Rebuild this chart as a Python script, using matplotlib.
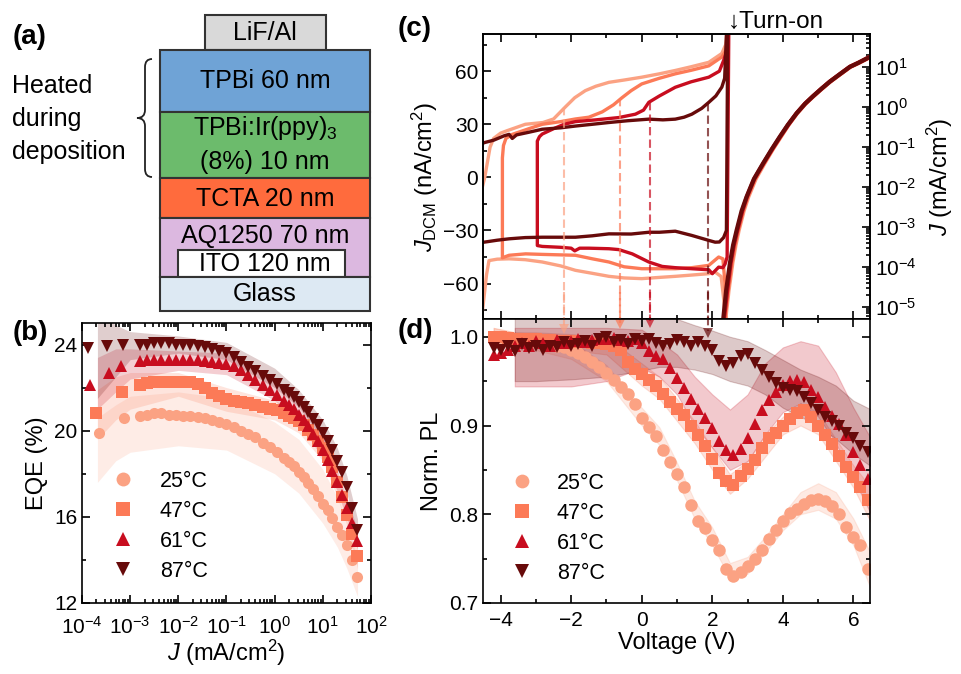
import numpy as np
import matplotlib
matplotlib.use("Agg")
import matplotlib.pyplot as plt
from matplotlib.patches import Rectangle, PathPatch
from matplotlib.path import Path
from matplotlib.ticker import MultipleLocator, LogLocator, NullFormatter

plt.rcParams['font.family'] = ['Liberation Sans', 'DejaVu Sans']
plt.rcParams['mathtext.fontset'] = 'custom'
plt.rcParams['mathtext.rm'] = 'Liberation Sans'
plt.rcParams['mathtext.it'] = 'Liberation Sans:italic'
plt.rcParams['mathtext.bf'] = 'Liberation Sans:bold'
plt.rcParams['axes.linewidth'] = 1.2

W, H = 961, 674

temps = ['25°C', '47°C', '61°C', '87°C']
colors = ['#fba283', '#fc7a57', '#c80d1f', '#670a0a']
markers = ['o', 's', '^', 'v']

# ---------------- (b) EQE vs J ----------------
dense = [-2.8, -2.65, -2.5, -2.35, -2.2, -2.05, -1.9, -1.75, -1.6, -1.45, -1.3, -1.15,
         -1.0, -0.85, -0.7, -0.55, -0.4, -0.25, -0.1, 0.05, 0.2, 0.3, 0.4, 0.5, 0.6,
         0.7, 0.8, 0.9, 1.0, 1.1, 1.2, 1.3, 1.4, 1.5, 1.6, 1.7]
logj_25 = [-3.65, -3.13] + dense
logj_47 = [-3.7, -3.17] + dense
logj_61 = [-3.84, -3.43, -3.18] + dense
logj_87 = [-3.87, -3.49, -3.15] + dense
eqe_25 = [19.9, 20.6,
          20.7, 20.75, 20.8, 20.8, 20.75, 20.75, 20.7, 20.7, 20.65, 20.6, 20.5, 20.4,
          20.3, 20.15, 20.0, 19.85, 19.7, 19.45, 19.25, 19.0, 18.75, 18.55, 18.35, 18.1,
          17.85, 17.55, 17.3, 16.95, 16.6, 16.3, 15.95, 15.55, 15.15, 14.7, 14.0, 13.2]
eqe_47 = [20.8, 21.8,
          22.1, 22.2, 22.25, 22.25, 22.25, 22.25, 22.25, 22.25, 22.15, 22.0, 21.75, 21.6,
          21.45, 21.4, 21.35, 21.3, 21.2, 21.1, 21.0, 20.95, 20.8, 20.7, 20.6, 20.45,
          20.25, 20.05, 19.8, 19.5, 19.2, 18.8, 18.3, 17.6, 16.9, 16.1, 15.2, 14.2]
eqe_61 = [22.1, 22.7, 23.0,
          23.25, 23.3, 23.3, 23.3, 23.3, 23.3, 23.3, 23.3, 23.28, 23.25, 23.2, 23.15,
          23.1, 23.0, 22.8, 22.6, 22.35, 22.1, 21.9, 21.65, 21.4, 21.2, 21.0, 20.75,
          20.5, 20.2, 19.85, 19.5, 19.1, 18.65, 18.15, 17.6, 17.0, 16.4, 15.7, 14.9]
eqe_87 = [23.85, 23.95, 24.0,
          24.0, 24.0, 24.05, 24.05, 24.05, 24.0, 24.0, 23.98, 23.95, 23.9, 23.8, 23.72,
          23.6, 23.4, 23.2, 22.95, 22.75, 22.55, 22.35, 22.15, 21.9, 21.75, 21.55, 21.35,
          21.1, 20.85, 20.55, 20.25, 19.9, 19.5, 19.1, 18.6, 18.1, 17.4, 16.4, 15.4]

band_logj = [-3.68, -3.3, -3.0, -2.0, -1.0, 0.0, 0.5, 1.0, 1.3, 1.5, 1.72]
eqe_lo_25 = [17.6, 18.6, 19.0, 19.3, 19.1, 18.0, 17.1, 15.7, 14.6, 13.6, 12.3]
eqe_hi_25 = [20.6, 21.2, 21.6, 21.8, 21.5, 20.4, 19.6, 18.2, 16.9, 15.8, 14.0]
eqe_lo_47 = [19.6, 20.5, 21.0, 21.6, 20.9, 20.5, 19.9, 18.6, 16.9, 15.6, 13.6]
eqe_hi_47 = [21.9, 22.5, 22.7, 22.7, 22.0, 21.4, 20.9, 19.7, 18.1, 16.7, 14.7]
eqe_lo_61 = [21.0, 21.8, 22.4, 22.8, 22.6, 21.4, 20.4, 18.7, 17.2, 15.9, 14.5]
eqe_hi_61 = [23.4, 23.8, 23.8, 23.7, 23.6, 22.4, 21.3, 19.8, 18.2, 16.9, 15.4]
eqe_lo_87 = [21.5, 22.5, 23.3, 23.6, 23.3, 22.0, 21.1, 19.6, 18.3, 17.1, 15.0]
eqe_hi_87 = [25.6, 24.9, 24.6, 24.4, 24.1, 22.9, 21.9, 20.5, 19.2, 17.9, 15.9]

# ---------------- (c) displacement current loops ----------------
loop_v_25 = [2.38, 2.33, 2.25, 2.08, 1.9, 1.4, 0.95, 0.5, 0.0, -0.5, -0.93, -1.4, -1.88,
             -2.3, -2.82, -3.3, -3.76, -4.1, -4.33, -4.4, -4.47, -4.6,
             -4.55, -4.45, -4.38, -4.3, -4.2, -4.0, -3.8, -3.3, -2.8, -2.5, -2.18, -1.9,
             -1.6, -1.3, -0.93, -0.5, 0.0, 0.5, 0.95, 1.4, 1.9, 2.27, 2.38, 2.45]
loop_j_25 = [-90, -70, -56, -53.5, -54.4, -55.2, -55.9, -56.5, -57.2, -56.8, -55.9, -54.2, -52.5,
             -50, -47.8, -46.5, -46, -46.2, -47, -55, -67.5, -90,
             -8, 0, 8, 17, 22, 25, 26.5, 30, 31, 33, 39.5, 45,
             49, 51.5, 53.7, 55, 56.6, 58.5, 60.4, 62.5, 65, 70, 75, 90]
loop_v_47 = [2.42, 2.36, 2.3, 2.18, 1.9, 1.42, 0.95, 0.5, 0.0, -0.5, -0.93, -1.4, -1.88,
             -2.82, -3.29, -3.76, -3.95, -3.95, -3.92, -3.85, -3.67, -3.2, -2.82, -2.3,
             -1.88, -1.5, -1.12, -0.8, -0.56, -0.3, 0.0, 0.5, 0.95, 1.4, 1.9, 2.27, 2.4, 2.46]
loop_j_47 = [-90, -60, -46, -45, -49.7, -51, -51.6, -51.6, -51.6, -50.5, -47.8, -46, -44,
             -43.5, -43.2, -44, -45.4, 11, 18, 22, 24.3, 27.5, 30, 31.5,
             33, 34, 37, 41, 45, 49, 52.8, 56, 58.5, 60.5, 63, 68, 72, 90]
loop_v_61 = [2.47, 2.42, 2.36, 2.3, 2.18, 2.0, 1.9, 1.42, 0.95, 0.58, 0.2, -0.27, -0.65,
             -0.93, -1.5, -1.76, -1.9, -2.0, -2.3, -2.82, -2.96,
             -2.96, -2.9, -2.82, -2.5, -2.2, -1.88, -1.3, -0.65, -0.18, 0.05, 0.2, 0.5,
             0.95, 1.4, 1.9, 2.2, 2.32, 2.42, 2.47]
loop_j_61 = [90, -45, -49, -51, -50.7, -54.4, -52.2, -51.6, -51, -50.3, -47.8, -43.2, -40.8,
             -40.3, -40, -40, -41.5, -40, -39.5, -39, -38.5,
             20.5, 23, 24.5, 27.5, 30, 31.5, 32.5, 33.8, 35.7, 38, 42.4, 46,
             50.9, 54, 56.6, 60, 66, 72, 90]
loop_v_87 = [2.44, 2.4, 2.32, 2.2, 2.08, 1.9, 1.42, 0.95, 0.5, 0.2, -0.3, -0.93, -1.4,
             -1.88, -2.82, -3.3, -3.76, -4.1, -4.47, -4.6,
             -4.6, -4.47, -4.2, -3.9, -3.76, -3.67, -3.55, -3.2, -2.82, -2.3, -1.88, -1.4,
             -0.93, -0.4, 0.2, 0.6, 0.95, 1.2, 1.42, 1.7, 1.9, 2.1, 2.27, 2.35, 2.42]
loop_j_87 = [90, -30, -34, -36.5, -36.6, -35.6, -32.8, -30.4, -31, -31, -32, -31.9, -33,
             -33.8, -33.8, -34, -34.7, -35.5, -36.6, -37,
             18, 19.6, 21, 23.5, 24.3, 22, 24, 25.5, 27.2, 28, 29, 30,
             31, 32, 32.9, 32.5, 32.9, 34, 35.7, 39, 42.4, 46, 51, 56, 90]

onset_v = [-2.2, -0.62, 0.24, 1.88]
onset_j = [39.5, 45, 42.5, 42]
arrow_pl = [1.005, 1.01, 1.012, 1.0]

# J-V curves (right axis, log10 of mA/cm2)
jv_logj = [-5.3, -4.6, -3.9, -3.45, -3.08, -2.6, -2.25, -1.8, -1.41, -1.05, -0.75,
           -0.45, -0.16, 0.08, 0.27, 0.45, 0.63, 0.8, 1.0, 1.1, 1.25]
jv_v_25 = [2.37, 2.46, 2.57, 2.66, 2.75, 2.89, 3.02, 3.23, 3.48, 3.72, 3.94,
           4.16, 4.40, 4.64, 4.87, 5.10, 5.34, 5.60, 5.91, 6.15, 6.48]
jv_v_47 = [2.35, 2.44, 2.55, 2.64, 2.73, 2.87, 3.00, 3.21, 3.46, 3.71, 3.93,
           4.15, 4.40, 4.64, 4.87, 5.10, 5.34, 5.60, 5.91, 6.15, 6.48]
jv_v_61 = [2.33, 2.42, 2.52, 2.61, 2.71, 2.85, 2.98, 3.19, 3.45, 3.70, 3.92,
           4.15, 4.39, 4.63, 4.86, 5.09, 5.33, 5.59, 5.90, 6.14, 6.47]
jv_v_87 = [2.31, 2.39, 2.50, 2.59, 2.69, 2.83, 2.97, 3.18, 3.44, 3.69, 3.91,
           4.14, 4.39, 4.63, 4.86, 5.09, 5.33, 5.59, 5.90, 6.14, 6.47]

# ---------------- (d) normalised PL vs voltage ----------------
volt = [-4.2, -4.0, -3.8, -3.6, -3.4, -3.2, -3.0, -2.8, -2.6, -2.4, -2.2, -2.0, -1.8,
        -1.6, -1.4, -1.2, -1.0, -0.8, -0.6, -0.4, -0.2, 0.0, 0.2, 0.4, 0.6, 0.8, 1.0,
        1.2, 1.4, 1.6, 1.8, 2.0, 2.2, 2.4, 2.6, 2.8, 3.0, 3.2, 3.4, 3.6, 3.8, 4.0,
        4.2, 4.4, 4.6, 4.8, 5.0, 5.2, 5.4, 5.6, 5.8, 6.0, 6.2, 6.4]
pl_25 = [1.0, 1.0, 0.998, 0.997, 0.996, 0.995, 0.994, 0.993, 0.992, 0.99, 0.988, 0.985, 0.982,
         0.977, 0.972, 0.966, 0.959, 0.951, 0.943, 0.935, 0.924, 0.908, 0.898, 0.888, 0.872, 0.859, 0.845,
         0.831, 0.81, 0.792, 0.785, 0.771, 0.76, 0.738, 0.73, 0.735, 0.742, 0.75, 0.76, 0.772, 0.782, 0.792,
         0.801, 0.806, 0.812, 0.816, 0.817, 0.815, 0.809, 0.8, 0.786, 0.774, 0.765, 0.738]
pl_47 = [1.0, 1.0, 0.999, 0.998, 0.998, 0.997, 0.997, 0.996, 0.996, 0.995, 0.995, 0.995, 0.994,
         0.994, 0.993, 0.993, 0.992, 0.99, 0.985, 0.972, 0.964, 0.958, 0.951, 0.945, 0.935, 0.926, 0.919,
         0.912, 0.9, 0.889, 0.877, 0.862, 0.846, 0.838, 0.833, 0.843, 0.851, 0.861, 0.875, 0.886, 0.892, 0.9,
         0.907, 0.914, 0.917, 0.91, 0.899, 0.889, 0.879, 0.866, 0.853, 0.842, 0.831, 0.816]
pl_61 = [0.979, 0.982, 0.985, 0.99, 0.993, 0.99, 0.995, 0.993, 0.99, 0.996, 0.993, 0.995, 0.997,
         0.994, 0.996, 0.998, 0.997, 0.999, 0.996, 0.995, 0.997, 0.993, 0.984, 0.978, 0.975, 0.965, 0.953,
         0.942, 0.93, 0.919, 0.908, 0.897, 0.882, 0.872, 0.867, 0.874, 0.886, 0.902, 0.918, 0.929, 0.938, 0.946,
         0.95, 0.951, 0.949, 0.94, 0.932, 0.921, 0.911, 0.902, 0.889, 0.87, 0.855, 0.84]
pl_87 = [0.987, 0.985, 0.99, 0.984, 0.992, 0.987, 0.99, 0.985, 0.99, 0.988, 0.994, 0.99, 0.992,
         0.995, 0.99, 0.997, 1.0, 0.994, 0.996, 0.992, 0.997, 0.995, 0.998, 0.993, 0.99, 0.992, 0.996,
         0.994, 0.99, 0.994, 0.99, 0.985, 0.973, 0.967, 0.97, 0.978, 0.981, 0.97, 0.962, 0.955, 0.948, 0.942,
         0.94, 0.939, 0.932, 0.925, 0.918, 0.91, 0.905, 0.9, 0.892, 0.886, 0.877, 0.87]

band_v = [-4.2, -3.6, -3.0, -2.0, -1.0, 0.0, 0.5, 1.0, 1.5, 2.0, 2.5, 3.0, 3.5, 4.0,
          4.5, 5.0, 5.5, 6.0, 6.5]
pl_lo_25 = [0.99, 0.985, 0.985, 0.975, 0.95, 0.9, 0.878, 0.838, 0.795, 0.765, 0.728, 0.733,
            0.757, 0.782, 0.8, 0.805, 0.795, 0.765, 0.715]
pl_hi_25 = [1.01, 1.005, 1.003, 0.995, 0.968, 0.92, 0.898, 0.858, 0.815, 0.785, 0.745, 0.752,
            0.775, 0.8, 0.825, 0.835, 0.825, 0.795, 0.755]
pl_lo_47 = [0.99, 0.99, 0.99, 0.985, 0.98, 0.945, 0.93, 0.905, 0.88, 0.85, 0.823, 0.84,
            0.865, 0.89, 0.9, 0.89, 0.86, 0.83, 0.79]
pl_hi_47 = [1.01, 1.005, 1.005, 1.003, 1.0, 0.97, 0.955, 0.93, 0.905, 0.875, 0.845, 0.86,
            0.89, 0.91, 0.925, 0.915, 0.885, 0.855, 0.83]
pl_lo_61 = [np.nan, 0.944, 0.944, 0.944, 0.95, 0.965, 0.955, 0.935, 0.9, 0.875, 0.85, 0.86,
            0.89, 0.915, 0.925, 0.91, 0.88, 0.84, 0.8]
pl_hi_61 = [np.nan, 1.01, 1.01, 1.01, 1.01, 1.008, 0.995, 0.98, 0.955, 0.935, 0.918, 0.935,
            0.97, 0.988, 0.995, 0.99, 0.96, 0.92, 0.885]
pl_lo_87 = [np.nan, 0.95, 0.95, 0.952, 0.955, 0.962, 0.966, 0.966, 0.963, 0.958, 0.95, 0.945,
            0.935, 0.92, 0.91, 0.9, 0.885, 0.868, 0.854]
pl_hi_87 = [np.nan, 1.03, 1.03, 1.03, 1.03, 1.03, 1.03, 1.02, 1.013, 1.007, 1.0, 0.995,
            0.985, 0.974, 0.963, 0.955, 0.945, 0.928, 0.918]


def box(l, t, r, b):
    return [l / W, 1 - b / H, (r - l) / W, (b - t) / H]


def style(ax, xpad=6):
    ax.tick_params(which='both', direction='in', top=True, right=True, labelsize=15,
                   width=1.2)
    ax.tick_params(which='major', length=6)
    ax.tick_params(which='minor', length=3)
    ax.tick_params(axis='x', which='major', pad=xpad)


fig = plt.figure(figsize=(W / 100, H / 100), dpi=100)

# ---------------- (a) device stack ----------------
ax_a = fig.add_axes(box(0, 0, 400, 320))
ax_a.set_xlim(0, 400)
ax_a.set_ylim(320, 0)
ax_a.axis('off')
stack = [('LiF/Al', '#d9d9d9', 205, 15, 326, 50),
         ('TPBi 60 nm', '#6fa3d6', 160, 50, 370, 112),
         ('', '#6cbb6c', 160, 112, 370, 178),
         ('TCTA 20 nm', '#ff6b3d', 160, 178, 370, 218),
         ('AQ1250 70 nm', '#dcb8e0', 160, 218, 370, 277),
         ('ITO 120 nm', '#ffffff', 178, 250, 345, 277),
         ('Glass', '#dde9f3', 160, 277, 370, 311)]
for name, c, x0, y0, x1, y1 in stack:
    ax_a.add_patch(Rectangle((x0, y0), x1 - x0, y1 - y0, facecolor=c,
                             edgecolor='#333333', lw=1.5))
text_pos = {'LiF/Al': 33, 'TPBi 60 nm': 81, 'TCTA 20 nm': 199,
            'AQ1250 70 nm': 236, 'ITO 120 nm': 264, 'Glass': 294}
for name, y in text_pos.items():
    ax_a.text(265, y, name, ha='center', va='center', fontsize=18)
ax_a.text(265, 128, 'TPBi:Ir(ppy)$_3$', ha='center', va='center', fontsize=18)
ax_a.text(265, 162, '(8%) 10 nm', ha='center', va='center', fontsize=18)
for word, y in [('Heated', 86), ('during', 119), ('deposition', 152)]:
    ax_a.text(12, y, word, ha='left', va='center', fontsize=18)
verts = [(152, 59), (145, 59), (145, 67), (145, 110), (145, 118), (137, 118),
         (145, 118), (145, 126), (145, 169), (145, 177), (152, 177)]
codes = [Path.MOVETO, Path.CURVE3, Path.CURVE3, Path.LINETO, Path.CURVE3, Path.CURVE3,
         Path.CURVE3, Path.CURVE3, Path.LINETO, Path.CURVE3, Path.CURVE3]
ax_a.add_patch(PathPatch(Path(verts, codes), facecolor='none', edgecolor='#222222', lw=1.3))

# ---------------- (b) ----------------
ax_b = fig.add_axes(box(82, 323, 371, 603))
bands_b = [(eqe_lo_25, eqe_hi_25), (eqe_lo_47, eqe_hi_47),
           (eqe_lo_61, eqe_hi_61), (eqe_lo_87, eqe_hi_87)]
for (lo, hi), c in zip(bands_b, colors):
    ax_b.fill_between(10 ** np.array(band_logj), lo, hi, color=c, alpha=0.2, lw=0)
series_b = [(logj_25, eqe_25), (logj_47, eqe_47), (logj_61, eqe_61), (logj_87, eqe_87)]
for (lj, e), c, m, t in zip(series_b, colors, markers, temps):
    ax_b.plot(10 ** np.array(lj), e, ls='none', marker=m, ms=8, mew=0, color=c, label=t)
ax_b.set_xscale('log')
ax_b.set_xlim(1e-4, 1e2)
ax_b.set_ylim(12, 25)
ax_b.yaxis.set_major_locator(MultipleLocator(4))
ax_b.yaxis.set_minor_locator(MultipleLocator(2))
ax_b.xaxis.set_major_locator(LogLocator(base=10, numticks=10))
ax_b.xaxis.set_minor_locator(LogLocator(base=10, subs=np.arange(2, 10), numticks=20))
ax_b.xaxis.set_minor_formatter(NullFormatter())
style(ax_b, xpad=9)
ax_b.set_ylabel('EQE (%)', fontsize=17, labelpad=4)
ax_b.set_xlabel('$J$ (mA/cm$^2$)', fontsize=17, labelpad=0)
ax_b.legend(loc='upper left', bbox_to_anchor=(104 / W, 1 - 462 / H),
            bbox_transform=fig.transFigure, frameon=False, fontsize=15.5,
            handlelength=1.0, handletextpad=1.2, labelspacing=0.42, markerscale=1.25,
            borderaxespad=0)

# ---------------- (c) ----------------
ax_c = fig.add_axes(box(483, 34, 870, 319))
loops = [(loop_v_25, loop_j_25), (loop_v_47, loop_j_47),
         (loop_v_61, loop_j_61), (loop_v_87, loop_j_87)]
for (v, j), c in zip(loops, colors):
    ax_c.plot(v, j, color=c, lw=2.4, solid_joinstyle='round')
for v0, j0, c in zip(onset_v, onset_j, colors):
    ax_c.plot([v0, v0], [j0, -90], color=c, alpha=0.7, lw=1.5, ls=(0, (4, 2)))
ax_c.set_xlim(-4.5, 6.47)
ax_c.set_ylim(-80, 81)
ax_c.xaxis.set_major_locator(MultipleLocator(2))
ax_c.xaxis.set_minor_locator(MultipleLocator(1))
ax_c.yaxis.set_major_locator(MultipleLocator(30))
ax_c.yaxis.set_minor_locator(MultipleLocator(15))
ax_c.tick_params(which='both', direction='in', top=True, right=False, labelsize=15,
                 labelbottom=False, width=1.2)
ax_c.tick_params(which='major', length=6)
ax_c.tick_params(which='minor', length=3)
ax_c.set_ylabel('$J_{\\mathrm{DCM}}$ (nA/cm$^2$)', fontsize=17, labelpad=2)
ax_c.text(2.44, 1.005, '↓Turn-on', transform=ax_c.get_xaxis_transform(),
          ha='left', va='bottom', fontsize=17.5)

ax_c2 = ax_c.twinx()
jv_sets = [jv_v_25, jv_v_47, jv_v_61, jv_v_87]
for v, c in zip(jv_sets, colors):
    ax_c2.plot(v, 10 ** np.array(jv_logj), color=c, lw=3)
ax_c2.set_yscale('log')
ax_c2.set_ylim(10 ** -5.3, 10 ** 1.82)
ax_c2.yaxis.set_major_locator(LogLocator(base=10, numticks=12))
ax_c2.yaxis.set_minor_locator(LogLocator(base=10, subs=np.arange(2, 10), numticks=20))
ax_c2.yaxis.set_minor_formatter(NullFormatter())
ax_c2.tick_params(which='both', direction='in', labelsize=15, width=1.2)
ax_c2.tick_params(which='major', length=6)
ax_c2.tick_params(which='minor', length=3)
ax_c2.set_ylabel('$J$ (mA/cm$^2$)', fontsize=17, labelpad=6)

# ---------------- (d) ----------------
ax_d = fig.add_axes(box(483, 319, 870, 603))
bands_d = [(pl_lo_25, pl_hi_25), (pl_lo_47, pl_hi_47),
           (pl_lo_61, pl_hi_61), (pl_lo_87, pl_hi_87)]
for (lo, hi), c in zip(bands_d, colors):
    ax_d.fill_between(band_v, lo, hi, color=c, alpha=0.22, lw=0.8)
series_d = [pl_25, pl_47, pl_61, pl_87]
for p, c, m, t in zip(series_d, colors, markers, temps):
    ax_d.plot(volt, p, ls='none', marker=m, ms=9, mew=0, color=c, label=t)
for v0, p0, c in zip(onset_v, arrow_pl, colors):
    ax_d.plot([v0, v0], [1.05, p0 + 0.006], color=c, alpha=0.7, lw=1.5, ls=(0, (4, 2)),
              clip_on=False)
    ax_d.plot([v0], [p0 + 0.004], marker='v', ms=7, mew=0, color=c, alpha=0.7)
ax_d.set_xlim(-4.5, 6.47)
ax_d.set_ylim(0.7, 1.02)
ax_d.xaxis.set_major_locator(MultipleLocator(2))
ax_d.xaxis.set_minor_locator(MultipleLocator(1))
ax_d.yaxis.set_major_locator(MultipleLocator(0.1))
ax_d.yaxis.set_minor_locator(MultipleLocator(0.05))
style(ax_d)
ax_d.set_ylabel('Norm. PL', fontsize=17, labelpad=4)
ax_d.set_xlabel('Voltage (V)', fontsize=17, labelpad=1)
ax_d.legend(loc='upper left', bbox_to_anchor=(503 / W, 1 - 464 / H),
            bbox_transform=fig.transFigure, frameon=False, fontsize=15.5,
            handlelength=1.0, handletextpad=1.1, labelspacing=0.42, markerscale=1.1,
            borderaxespad=0)

# panel labels
for lab, x, y in [('(a)', 13, 37), ('(b)', 13, 333), ('(c)', 398, 29), ('(d)', 398, 331)]:
    fig.text(x / W, 1 - y / H, lab, fontsize=20, fontweight='bold', ha='left', va='center')

fig.savefig('out.png', dpi=100)
